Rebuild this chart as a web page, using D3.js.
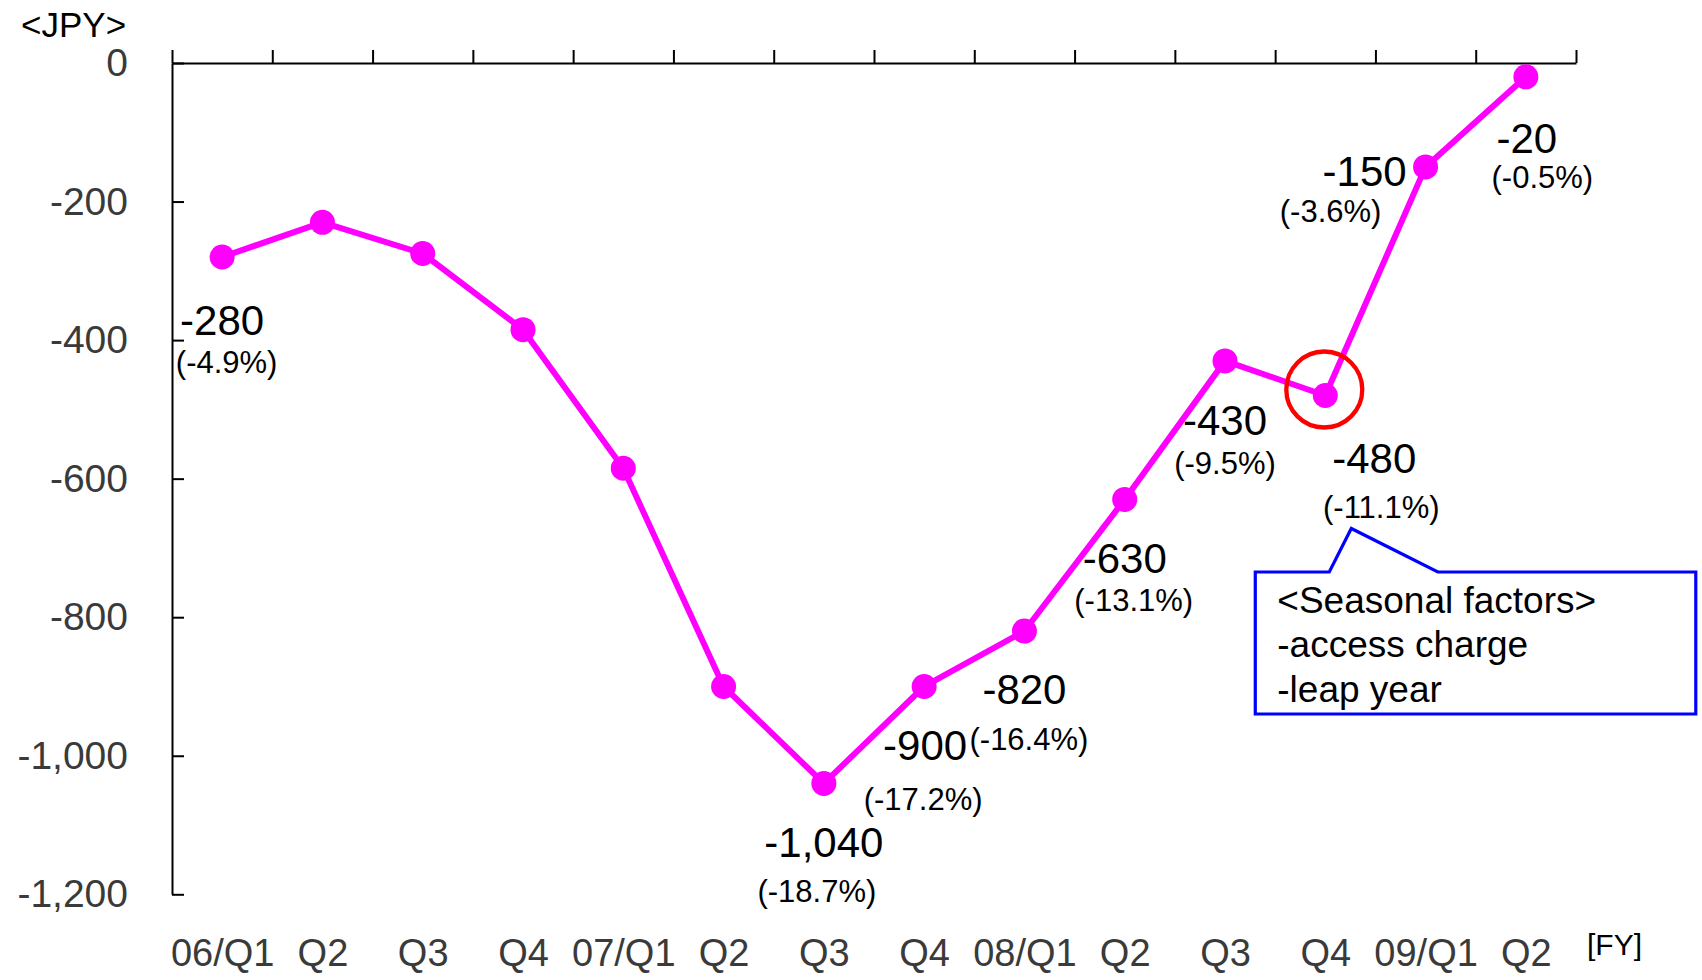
<!DOCTYPE html>
<html>
<head>
<meta charset="utf-8">
<script src="https://cdn.jsdelivr.net/npm/d3@7"></script>
<style>
  html, body { margin: 0; padding: 0; background: #fff; }
  svg { display: block; font-family: "Liberation Sans", Arial, Helvetica, sans-serif; }
</style>
</head>
<body>
<svg id="chart" width="1702" height="980"></svg>
<script>
// Quarterly change (JPY) by fiscal quarter
const quarters = ["06/Q1", "Q2", "Q3", "Q4", "07/Q1", "Q2", "Q3", "Q4",
                  "08/Q1", "Q2", "Q3", "Q4", "09/Q1", "Q2"];
const changeJPY = [-280, -230, -275, -385, -585, -900, -1040, -900,
                   -820, -630, -430, -480, -150, -20];
const changePct = [-4.9, null, null, null, null, null, -18.7, -17.2,
                   -16.4, -13.1, -9.5, -11.1, -3.6, -0.5];
const yTicks = [0, -200, -400, -600, -800, -1000, -1200];
const noteLines = ["<Seasonal factors>", "-access charge", "-leap year"];
const highlightIndex = 11;

// Label placement around each point: [dx, dy] of value label, [dx, dy] of percent label
const labelPlacement = {
  0:  [[0, 78],  [4.5, 116]],
  6:  [[0, 73.5], [-7, 118.5]],
  7:  [[1, 73.5], [-1, 123.5]],
  8:  [[0, 73],  [4.5, 119]],
  9:  [[0, 73.5], [9, 112]],
  10: [[0, 74],  [0, 113]],
  11: [[49, 77], [56, 122]],
  12: [[-61, 19], [-95, 55]],
  13: [[1, 76],  [16.5, 111]]
};

(function () {
  const fmtLocale = d3.formatLocale({
    decimal: ".", thousands: ",", grouping: [3], currency: ["", ""], minus: "-"
  });
  const fmtInt = fmtLocale.format(",");
  const fmtPct = fmtLocale.format(".1f");

  const svg = d3.select("#chart");
  const plotLeft = 172, plotRight = 1576, plotTop = 63, plotBottom = 894.3;

  const idx = d3.range(quarters.length);
  const xBand = d3.scaleBand().domain(idx).range([plotLeft, plotRight]).padding(0);
  const xc = i => xBand(i) + xBand.bandwidth() / 2;
  const xEdge = d3.scaleLinear().domain([0, quarters.length]).range([plotLeft, plotRight]);
  const y = d3.scaleLinear().domain([-1200, 0]).range([plotBottom, plotTop]);

  const axisColor = "#000";
  const tickText = "#3a3a3a";
  const fontFam = "'Liberation Sans', Arial, sans-serif";

  // Top axis with boundary ticks pointing up
  const gTop = svg.append("g")
    .attr("transform", `translate(0,${plotTop})`)
    .call(d3.axisTop(xEdge).tickValues(d3.range(quarters.length + 1))
      .tickFormat("").tickSize(13).tickSizeOuter(0));
  gTop.selectAll("path, line").attr("stroke", axisColor).attr("stroke-width", 2);

  // Left axis with inward ticks
  const gLeft = svg.append("g")
    .attr("transform", `translate(${plotLeft},0)`)
    .call(d3.axisLeft(y).tickValues(yTicks).tickFormat(fmtInt)
      .tickSizeInner(-12).tickSizeOuter(0).tickPadding(44));
  gLeft.selectAll("path, line").attr("stroke", axisColor).attr("stroke-width", 2);
  gLeft.selectAll("text")
    .attr("fill", tickText)
    .attr("font-size", 39)
    .attr("font-family", fontFam);

  // Category labels under the plot
  const gBottom = svg.append("g")
    .attr("transform", "translate(0,939)")
    .call(d3.axisBottom(d3.scalePoint().domain(idx).range([xc(0), xc(quarters.length - 1)]))
      .tickFormat(i => quarters[i]).tickSize(0).tickPadding(0));
  gBottom.select(".domain").remove();
  gBottom.selectAll("text")
    .attr("fill", tickText)
    .attr("font-size", 38)
    .attr("font-family", fontFam);

  // Unit labels
  svg.append("text").attr("x", 21).attr("y", 37)
    .attr("font-size", 35).attr("fill", "#000").text("<JPY>");
  svg.append("text").attr("x", 1587).attr("y", 955)
    .attr("font-size", 30).attr("fill", "#000").text("[FY]");

  // Series line and markers
  const magenta = "#ff00ff";
  svg.append("path")
    .datum(idx)
    .attr("fill", "none")
    .attr("stroke", magenta)
    .attr("stroke-width", 6)
    .attr("stroke-linejoin", "round")
    .attr("d", d3.line().x(i => xc(i)).y(i => y(changeJPY[i])));

  svg.append("g").selectAll("circle")
    .data(idx)
    .join("circle")
    .attr("cx", i => xc(i))
    .attr("cy", i => y(changeJPY[i]))
    .attr("r", 12.5)
    .attr("fill", magenta);

  // Value and percent labels
  const labelled = idx.filter(i => changePct[i] !== null);
  const gLabels = svg.append("g").attr("fill", "#000").attr("text-anchor", "middle");
  labelled.forEach(i => {
    const [vOff, pOff] = labelPlacement[i];
    const px = xc(i), py = y(changeJPY[i]);
    gLabels.append("text")
      .attr("x", px + vOff[0]).attr("y", py + vOff[1])
      .attr("font-size", 42)
      .text(fmtInt(changeJPY[i]));
    gLabels.append("text")
      .attr("x", px + pOff[0]).attr("y", py + pOff[1])
      .attr("font-size", 31)
      .text("(" + fmtPct(changePct[i]) + "%)");
  });

  // Highlight ring on the seasonal quarter
  const hx = xc(highlightIndex), hy = y(changeJPY[highlightIndex]);
  svg.append("circle")
    .attr("cx", hx - 1).attr("cy", hy - 6).attr("r", 38)
    .attr("fill", "none").attr("stroke", "#ff0000").attr("stroke-width", 4.3);

  // Callout note
  const bx0 = hx - 70, bx1 = hx + 370.5, by0 = hy + 176.5, by1 = hy + 318.5;
  const callout = d3.path();
  callout.moveTo(bx0, by0);
  callout.lineTo(hx + 4, by0);
  callout.lineTo(hx + 26, hy + 133);
  callout.lineTo(hx + 112.5, by0);
  callout.lineTo(bx1, by0);
  callout.lineTo(bx1, by1);
  callout.lineTo(bx0, by1);
  callout.closePath();
  svg.append("path")
    .attr("d", callout.toString())
    .attr("fill", "#fff")
    .attr("stroke", "#0000ff")
    .attr("stroke-width", 3.2);

  svg.append("g").selectAll("text")
    .data(noteLines)
    .join("text")
    .attr("x", bx0 + 22)
    .attr("y", (d, k) => by0 + 40.5 + k * 44.5)
    .attr("font-size", 37)
    .attr("fill", "#000")
    .text(d => d);
})();
</script>
</body>
</html>
